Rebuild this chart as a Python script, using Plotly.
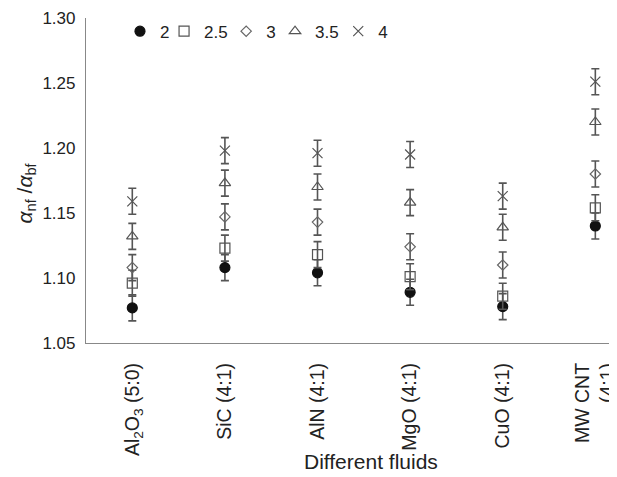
import plotly.graph_objects as go

categories = ["Al<sub>2</sub>O<sub>3</sub> (5:0)", "SiC (4:1)", "AlN (4:1)",
              "MgO (4:1)", "CuO (4:1)", "MW CNT<br>(4:1)"]
series_names = ["2", "2.5", "3", "3.5", "4"]
vals_2 = [1.077, 1.108, 1.104, 1.089, 1.078, 1.140]
vals_25 = [1.096, 1.123, 1.118, 1.101, 1.086, 1.154]
vals_3 = [1.108, 1.147, 1.143, 1.124, 1.110, 1.180]
vals_35 = [1.132, 1.173, 1.170, 1.158, 1.139, 1.220]
vals_4 = [1.159, 1.198, 1.196, 1.195, 1.163, 1.251]
err = [0.01, 0.01, 0.01, 0.01, 0.01, 0.01]

series = [vals_2, vals_25, vals_3, vals_35, vals_4]
symbols = ["circle", "square-open", "diamond-open", "triangle-up-open", "x-thin-open"]
sizes = [10, 10, 8, 10, 10]
mcolors = ["#111111", "#555555", "#666666", "#555555", "#555555"]
legend_ids = ["legend", "legend2", "legend3", "legend4", "legend5"]
legend_x = [0.064, 0.147, 0.264, 0.356, 0.475]

fig = go.Figure()
for name, vals, sym, sz, col, lid in zip(series_names, series, symbols, sizes, mcolors, legend_ids):
    fig.add_trace(go.Scatter(
        x=list(range(len(categories))), y=vals, name=name, mode="markers",
        legend=lid,
        marker=dict(symbol=sym, size=sz, color=col, line=dict(color=col, width=1.2)),
        error_y=dict(type="data", array=err, visible=True, color="#555555",
                     thickness=1.6, width=4),
    ))

FONT = "Liberation Sans, Arial, sans-serif"
legends = {}
for lid, lx in zip(legend_ids, legend_x):
    legends[lid] = dict(orientation="h", x=lx, y=0.958, xanchor="left", yanchor="middle",
                        font=dict(size=17, color="#222222"), itemwidth=30,
                        bgcolor="rgba(0,0,0,0)")

fig.update_layout(
    width=609, height=469,
    margin=dict(l=78, r=0, t=10, b=134),
    paper_bgcolor="white", plot_bgcolor="white",
    font=dict(family=FONT, size=17, color="#222222"),
    showlegend=True,
    xaxis=dict(
        range=[-0.5, 5.234], tickmode="array",
        tickvals=list(range(len(categories))), ticktext=categories,
        tickangle=-90, showgrid=False, zeroline=False, automargin=False,
        showline=True, linecolor="#888888", linewidth=1.2, ticks="",
        ticklabelstandoff=11, tickfont=dict(size=19.5),
        ticklabeloverflow="allow",
    ),
    yaxis=dict(
        range=[1.05, 1.30], dtick=0.05, tick0=1.05, tickformat=".2f",
        showgrid=False, zeroline=False, showline=True, linecolor="#888888",
        linewidth=1.2, ticks="", ticklabelstandoff=6, automargin=False,
        tickfont=dict(size=17),
    ),
    annotations=[
        dict(text="<i>α</i><sub>nf</sub> /<i>α</i><sub>bf</sub>",
             xref="paper", yref="paper", x=0, y=0.46, xshift=-61,
             xanchor="center", yanchor="middle", textangle=-90,
             showarrow=False, font=dict(size=21, color="#222222")),
        dict(text="Different fluids",
             xref="paper", yref="paper", x=0.537, y=-0.366,
             xanchor="center", yanchor="middle",
             showarrow=False, font=dict(size=21, color="#222222")),
    ],
    **legends,
)

fig.write_html("out.html")
